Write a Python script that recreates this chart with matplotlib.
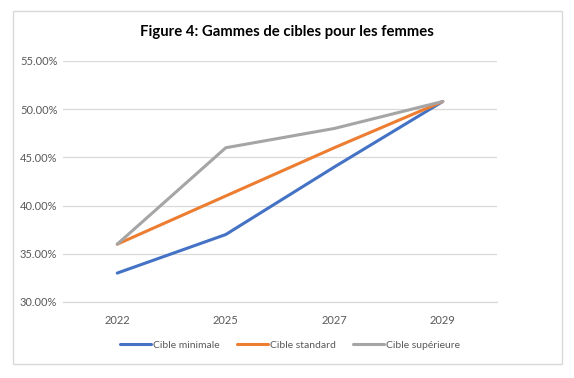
import matplotlib
matplotlib.use("Agg")
import matplotlib.pyplot as plt
from matplotlib.patches import Rectangle
from matplotlib.ticker import FuncFormatter

years = ["2022", "2025", "2027", "2029"]
cible_minimale = [33.0, 37.0, 44.0, 50.8]
cible_standard = [36.0, 41.0, 46.0, 50.8]
cible_superieure = [36.0, 46.0, 48.0, 50.8]
series_names = ["Cible minimale", "Cible standard", "Cible supérieure"]
colors = ["#4472C4", "#ED7D31", "#A5A5A5"]

plt.rcParams['font.family'] = ['Lato', 'DejaVu Sans']

W, H = 574, 378
fig = plt.figure(figsize=(W/100, H/100), dpi=100)
fig.patch.set_facecolor("white")

# outer chart border
fig.patches.append(Rectangle((12.5/W, 1 - 364/H), (562-12.5)/W, (364-11)/H,
                             transform=fig.transFigure, fill=False,
                             edgecolor="#D9D9D9", linewidth=1.0))

ax = fig.add_axes([63/W, 1 - 302/H, (497-63)/W, (302-61)/H])
x = list(range(len(years)))
for vals, name, c in zip([cible_minimale, cible_standard, cible_superieure], series_names, colors):
    ax.plot(x, vals, color=c, linewidth=2.2, label=name, solid_capstyle='round')

ax.set_xlim(-0.5, len(years) - 0.5)
ax.set_ylim(30, 55)
ax.set_yticks([30, 35, 40, 45, 50, 55])
ax.yaxis.set_major_formatter(FuncFormatter(lambda v, p: f"{v:.2f}%"))
ax.set_xticks(x)
ax.set_xticklabels(years)
ax.grid(axis='y', color="#D9D9D9", linewidth=0.9)
ax.set_axisbelow(True)
for s in ["top", "right", "left"]:
    ax.spines[s].set_visible(False)
ax.spines["bottom"].set_color("#D9D9D9")
ax.spines["bottom"].set_linewidth(0.9)
ax.tick_params(axis='both', length=0, labelsize=8.0, colors="#595959")
ax.tick_params(axis='y', pad=4)
ax.tick_params(axis='x', pad=9)

fig.text(287/W, 1 - 32/H, "Figure 4: Gammes de cibles pour les femmes",
         ha='center', va='center', fontsize=10.7, fontweight='bold', color="#000000")

leg = fig.legend(loc='center', bbox_to_anchor=(290/W, 1 - 345/H), ncol=3,
                 frameon=False, fontsize=7.5, handlelength=3.0, handletextpad=0.2,
                 columnspacing=1.6, labelcolor="#595959")

fig.savefig("out.png", dpi=100)
